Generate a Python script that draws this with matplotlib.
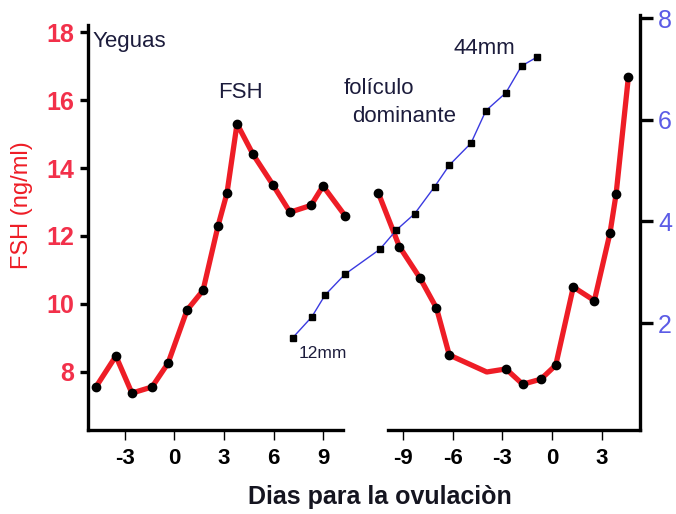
import matplotlib
matplotlib.use("Agg")
import matplotlib.pyplot as plt

plt.rcParams['font.family'] = ['Liberation Sans Narrow', 'Liberation Sans', 'DejaVu Sans']
plt.rcParams['axes.unicode_minus'] = False

# FSH antes (dias desde la ovulacion previa)
dias_izq = [-4.76, -3.55, -2.58, -1.36, -0.39, 0.76, 1.73, 2.64, 3.18, 3.79,
            4.76, 5.97, 7.0, 8.27, 9.0, 10.33]
fsh_izq = [7.56, 8.47, 7.38, 7.56, 8.26, 9.82, 10.4, 12.3, 13.26, 15.3,
           14.4, 13.5, 12.7, 12.9, 13.47, 12.6]

# FSH hacia la ovulacion siguiente
dias_der = [-10.49, -9.22, -7.97, -6.98, -6.21, -3.95, -2.79, -1.78, -0.68,
            0.21, 1.27, 2.54, 3.48, 3.85, 4.59]
fsh_der = [13.27, 11.69, 10.76, 9.88, 8.5, 8.0, 8.09, 7.64, 7.79,
           8.2, 10.5, 10.1, 12.08, 13.23, 16.67]

# foliculo dominante (eje derecho)
dias_fol = [-15.65, -14.5, -13.7, -12.5, -10.4, -9.4, -8.3, -7.1, -6.2,
            -4.9, -4.0, -2.8, -1.85, -0.94]
fol = [1.71, 2.12, 2.55, 2.96, 3.45, 3.83, 4.15, 4.68, 5.11,
       5.54, 6.18, 6.53, 7.06, 7.23]

ticks_izq = [-3, 0, 3, 6, 9]
ticks_der = [-9, -6, -3, 0, 3]
ticks_fsh = [8, 10, 12, 14, 16, 18]
ticks_fol = [2, 4, 6, 8]

RED = '#ee1d26'
TICKRED = '#f2304a'
BLUE = '#3a3ae0'
TICKBLUE = '#5c5ce6'
TXT = '#1c1c3c'

W, H = 676, 514
fig = plt.figure(figsize=(W / 100, H / 100), dpi=100)


def box(l, r, t, b):
    return [l / W, 1 - b / H, (r - l) / W, (b - t) / H]


ax1 = fig.add_axes(box(88, 343, 25, 430))
ax2 = fig.add_axes(box(376, 640, 15, 430))
ax2r = ax2.twinx()
for a in (ax1, ax2, ax2r):
    a.patch.set_alpha(0)

# panel izquierdo
ax1.plot(dias_izq, fsh_izq, color=RED, lw=3.8, marker='o', ms=6,
         mfc='black', mec='black', clip_on=False, zorder=3)
ax1.set_xlim(-5.24, 10.21)
ax1.set_ylim(6.294, 18.206)
ax1.set_xticks(ticks_izq)
ax1.set_yticks(ticks_fsh)
ax1.spines[['top', 'right']].set_visible(False)
ax1.spines[['left', 'bottom']].set_linewidth(2.4)
ax1.spines['bottom'].set_capstyle('projecting')
ax1.tick_params(axis='y', length=6, width=2.4, pad=4, labelsize=18,
                labelcolor=TICKRED)
ax1.tick_params(axis='x', length=7, width=1.0, pad=6, labelsize=16)
for lb in ax1.get_yticklabels():
    lb.set_fontweight('bold')
    lb.set_family(['Liberation Sans', 'DejaVu Sans'])
for lb in ax1.get_xticklabels():
    lb.set_fontweight('bold')

# panel derecho
ax2.plot(dias_der, fsh_der, color=RED, lw=3.8, marker='o', ms=6,
         mfc='black', mec='black', markevery=[0, 1, 2, 3, 4, 6, 7, 8, 9, 10, 11, 12, 13, 14],
         clip_on=False, zorder=3)
ax2.set_xlim(-10.628, 5.292)
ax2.set_ylim(6.294, 18.5)
ax2.set_xticks(ticks_der)
ax2.set_yticks([])
ax2.spines[['top', 'left', 'right']].set_visible(False)
ax2.spines['bottom'].set_linewidth(2.4)
ax2.spines['bottom'].set_bounds(-9.9, 5.292)
ax2.spines['bottom'].set_capstyle('projecting')
ax2.tick_params(axis='x', length=7, width=1.0, pad=6, labelsize=16)
for lb in ax2.get_xticklabels():
    lb.set_fontweight('bold')

ax2r.plot(dias_fol, fol, color=BLUE, lw=1.0, marker='s', ms=4,
          mfc='black', mec='black', clip_on=False, zorder=4)
ax2r.set_ylim(-0.106, 8.063)
ax2r.set_yticks(ticks_fol)
ax2r.spines[['top', 'left', 'bottom']].set_visible(False)
ax2r.spines['right'].set_linewidth(2.4)
ax2r.tick_params(axis='y', length=9, width=2.4, pad=4, labelsize=18,
                 labelcolor=TICKBLUE)
for lb in ax2r.get_yticklabels():
    lb.set_family(['Liberation Sans', 'DejaVu Sans'])

# textos
fs = 16
plain = ['Liberation Sans', 'DejaVu Sans']
fig.text(93 / W, 1 - 42 / H, 'Yeguas', fontsize=fs, color=TXT, family=plain,
         ha='left', va='center')
fig.text(240 / W, 1 - 92 / H, 'FSH', fontsize=fs, color=TXT, family=plain,
         ha='center', va='center')
fig.text(344 / W, 1 - 89 / H, 'folículo', fontsize=fs, color=TXT, family=plain,
         ha='left', va='center')
fig.text(352 / W, 1 - 116 / H, 'dominante', fontsize=fs, color=TXT, family=plain,
         ha='left', va='center')
fig.text(484 / W, 1 - 49 / H, '44mm', fontsize=fs, color=TXT, family=plain,
         ha='center', va='center')
fig.text(323 / W, 1 - 353 / H, '12mm', fontsize=12.5, color=TXT, family=plain,
         ha='center', va='center')
fig.text(22 / W, 1 - 205 / H, 'FSH (ng/ml)', fontsize=17, color=RED, family=plain,
         rotation=90, ha='center', va='center')
fig.text(380 / W, 1 - 497 / H, 'Dias para la ovulaciòn', fontsize=18,
         fontweight='bold', color='#151520', ha='center', va='center')

fig.savefig('out.png', dpi=100)
